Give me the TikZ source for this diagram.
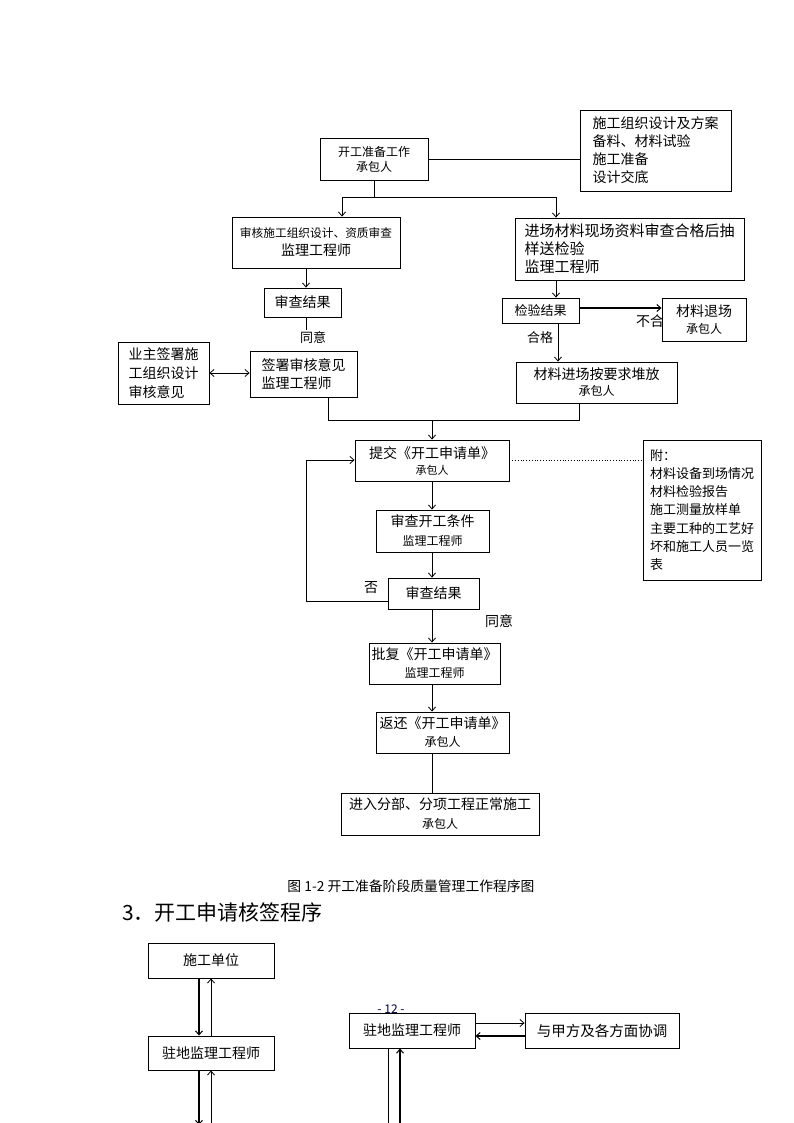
\documentclass[tikz,border=0pt]{standalone}
\usepackage{fontspec}
\setmainfont{Noto Sans CJK SC}
\usetikzlibrary{arrows.meta}
\newcommand\fs[2]{\fontsize{#1}{#2}\selectfont}
\tikzset{
  box/.style={draw, line width=0.9pt, fill=white, inner sep=0pt},
  ln/.style={line width=0.8pt},
  arr/.style={line width=0.8pt, -{Straight Barb[length=4pt,width=7pt]}},
  thk/.style={line width=2pt, -{Straight Barb[length=4pt,width=7pt,line width=1pt]}},
  lbl/.style={inner sep=0pt, font=\fs{13}{15}},
}
\begin{document}
\begin{tikzpicture}[x=1pt,y=-1pt]
\useasboundingbox[fill=white] (0,0) rectangle (794,1123);

% ---------- upper flow chart ----------
\node[box, minimum width=108, minimum height=42, align=center, font=\fs{12}{15}] (start) at (374,159) {开工准备工作\\承包人};
\node[box, minimum width=151, minimum height=81, align=left, font=\fs{14}{18}] (list) at (655.5,150.5) {施工组织设计及方案\\备料、材料试验\\施工准备\\设计交底};
\node[box, minimum width=168, minimum height=51, align=center, font=\fs{14}{18}] (shen) at (316,242.5) {{\fs{11.7}{18}审核施工组织设计、资质审查}\\监理工程师};
\node[box, minimum width=229, minimum height=62, align=left, font=\fs{15}{18}] (jin) at (629.5,249) {进场材料现场资料审查合格后抽\\样送检验\\监理工程师};
\node[box, minimum width=77, minimum height=29, font=\fs{14}{17}] (res1) at (302.5,302.5) {审查结果};
\node[box, minimum width=107, minimum height=46, align=left, font=\fs{14}{18}] (sign) at (303.5,374) {签署审核意见\\监理工程师};
\node[box, minimum width=91, minimum height=62, align=left, font=\fs{14}{19}] (owner) at (163.5,373) {业主签署施\\工组织设计\\审核意见};
\node[box, minimum width=77, minimum height=25, font=\fs{13}{15}] (check) at (540.5,310.5) {检验结果};
\node[lbl, anchor=west] (bh) at (636,321) {\fs{14}{16}不合格};
\node[box, minimum width=84, minimum height=43, align=center, font=\fs{14}{17}] (ret) at (704,319.5) {材料退场\\{\fs{12}{17}承包人}};
\node[box, minimum width=161, minimum height=41, align=center, font=\fs{14}{16}] (store) at (596.5,382.5) {材料进场按要求堆放\\{\fs{12}{16}承包人}};
\node[lbl] (hg) at (540,338) {合格};
\node[lbl] (ty1) at (313,338) {同意};

\node[box, minimum width=154, minimum height=41, align=center, font=\fs{14}{16}] (submit) at (432,460.5) {提交《开工申请单》\\{\fs{11}{16}承包人}};
\node[box, minimum width=118, minimum height=140, align=left, font=\fs{13}{18.3}] (attach) at (702,510) {附：\\材料设备到场情况\\材料检验报告\\施工测量放样单\\主要工种的工艺好\\坏和施工人员一览\\表};
\node[box, minimum width=113, minimum height=42, align=center, font=\fs{14}{19}] (cond) at (432.5,531) {审查开工条件\\{\fs{12}{19}监理工程师}};
\node[box, minimum width=91, minimum height=31, font=\fs{14}{17}] (res2) at (433.5,593.5) {审查结果};
\node[lbl, font=\fs{14}{16}] (fou) at (371,588) {否};
\node[lbl, font=\fs{14}{16}] (ty2) at (499,621) {同意};
\node[box, minimum width=131, minimum height=41, align=center, font=\fs{14}{18}] (approve) at (434.5,663.5) {批复《开工申请单》\\{\fs{12}{18}监理工程师}};
\node[box, minimum width=133, minimum height=41, align=center, font=\fs{14}{18}] (back) at (442.5,732.5) {返还《开工申请单》\\{\fs{12}{18}承包人}};
\node[box, minimum width=198, minimum height=42, align=center, font=\fs{14}{19}] (enter) at (440,814) {进入分部、分项工程正常施工\\{\fs{12}{19}承包人}};

% guide coordinates
\coordinate (jL) at (342,197);
\coordinate (jR) at (556,197);
\coordinate (xA) at (306,330);
\coordinate (m1) at (328,420);
\coordinate (m2) at (579,420);
\coordinate (m3) at (432,420);
\coordinate (yk) at (0,308);
\coordinate (xk) at (558,0);
\coordinate (fb1) at (306,601);
\coordinate (fb2) at (306,460);

% connectors
\draw[ln] (start.east) -- (start.east -| list.west);
\draw[ln] (start.south) -- (start.south |- jL);
\draw[ln] (jL) -- (jR);
\draw[arr] (jL) -- (jL |- shen.north);
\draw[arr] (jR) -- (jR |- jin.north);
\draw[arr] (shen.south -| xA) -- (res1.north -| xA);
\draw[ln] (res1.south -| xA) -- (xA);
\draw[line width=0.8pt, {Straight Barb[length=4pt,width=7pt]}-{Straight Barb[length=4pt,width=7pt]}] (owner.east) -- (owner.east -| sign.west);
\draw[arr] (jin.south -| jR) -- (check.north -| jR);
\draw[thk] (check.east |- yk) -- (ret.west |- yk);
\draw[arr] (check.south -| xk) -- (store.north -| xk);
\draw[ln] (sign.south -| m1) -- (m1) -- (m2) -- (store.south -| m2);
\draw[arr] (m3) -- (submit.north);
\draw[ln, dotted] (submit.east) -- (submit.east -| attach.west);
\draw[arr] (submit.south) -- (cond.north -| submit.south);
\draw[arr] (cond.south -| submit.south) -- (res2.north -| submit.south);
\draw[arr] (res2.west |- fb1) -- (fb1) -- (fb2) -- (submit.west |- fb2);
\draw[arr] (res2.south -| submit.south) -- (approve.north -| submit.south);
\draw[arr] (approve.south -| submit.south) -- (back.north -| submit.south);
\draw[ln] (back.south -| submit.south) -- (enter.north -| submit.south);

% ---------- captions ----------
\node[lbl, font=\fs{13.8}{16}] (cap) at (411,886) {图 1-2 开工准备阶段质量管理工作程序图};
\node[inner sep=0pt, anchor=west, font=\fs{21}{24}] (head) at (122,912) {3．开工申请核签程序};

% ---------- lower chart ----------
\node[inner sep=0pt, text=black!75!blue, font=\fs{12}{14}] (pg) at (391,1009) {- 12 -};
\node[box, minimum width=126, minimum height=35, font=\fs{14}{17}] (sg) at (211,960.5) {施工单位};
\node[box, minimum width=126, minimum height=34, font=\fs{14}{17}] (zd1) at (211,1053) {驻地监理工程师};
\node[box, minimum width=126, minimum height=35, font=\fs{14}{17}] (zd2) at (412,1030.5) {驻地监理工程师};
\node[box, minimum width=154, minimum height=35, font=\fs{14.5}{17}] (xt) at (602,1030.5) {与甲方及各方面协调};

\coordinate (a1) at (199,0);
\coordinate (a2) at (211,0);
\coordinate (b1) at (199,1123);
\coordinate (b2) at (211,1123);
\coordinate (c1) at (388,1123);
\coordinate (c2) at (400,1123);
\coordinate (r1) at (0,1023);
\coordinate (r2) at (0,1036);

\draw[thk] (sg.south -| a1) -- (zd1.north -| a1);
\draw[arr] (zd1.north -| a2) -- (sg.south -| a2);
\draw[thk] (zd1.south -| a1) -- ([yshift=-2pt]b1);
\draw[arr] (b2) -- (zd1.south -| a2);
\draw[arr] (zd2.east |- r1) -- (xt.west |- r1);
\draw[thk] (xt.west |- r2) -- (zd2.east |- r2);
\draw[ln] (zd2.south -| c1) -- (c1);
\draw[thk] (c2) -- (zd2.south -| c2);
\end{tikzpicture}
\end{document}
